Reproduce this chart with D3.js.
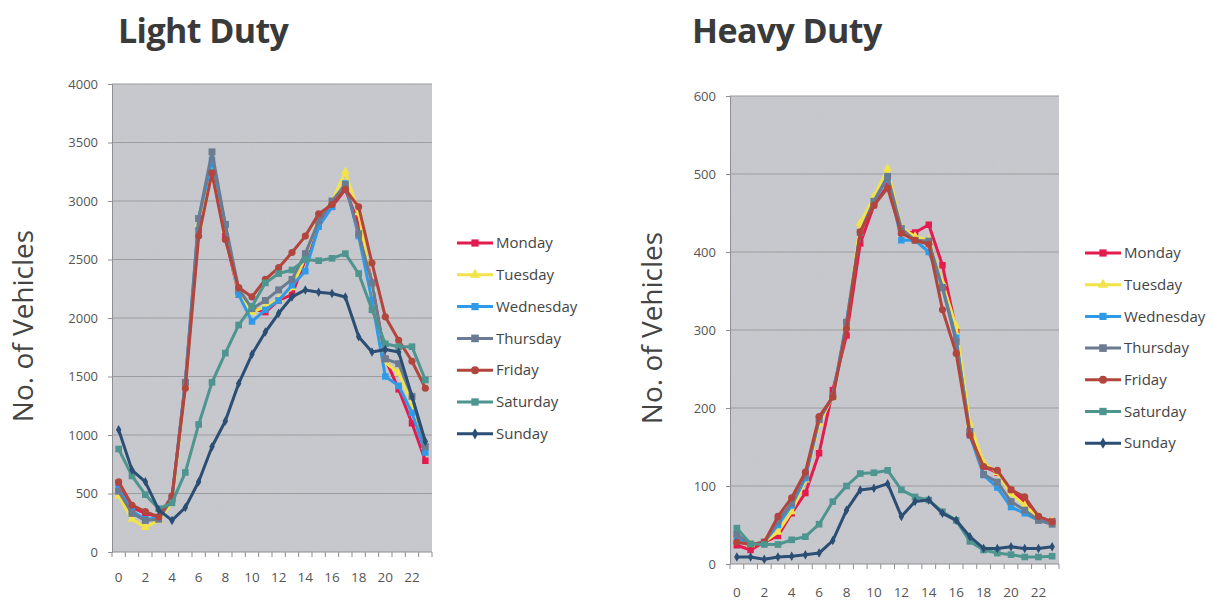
<!DOCTYPE html>
<html>
<head>
<meta charset="utf-8">
<script src="https://cdn.jsdelivr.net/npm/d3@7"></script>
<style>
  html, body { margin: 0; padding: 0; background: #ffffff; }
  svg { display: block; }
</style>
</head>
<body>
<svg id="chart" width="1212" height="601"></svg>
<script>
// ---------------- DATA ----------------
const hours = d3.range(0, 24);
const hourTickLabels = [0, 2, 4, 6, 8, 10, 12, 14, 16, 18, 20, 22];
const days = ["Monday", "Tuesday", "Wednesday", "Thursday", "Friday", "Saturday", "Sunday"];

const lightTitle = "Light Duty";
const lightYTicks = [0, 500, 1000, 1500, 2000, 2500, 3000, 3500, 4000];
const lightMonday    = [590, 380, 330, 300, 450, 1450, 2750, 3250, 2700, 2200, 2080, 2050, 2150, 2200, 2500, 2800, 2950, 3100, 2800, 2300, 1650, 1390, 1100, 780];
const lightTuesday   = [480, 280, 210, 270, 420, 1420, 2800, 3300, 2750, 2200, 2050, 2100, 2160, 2260, 2520, 2850, 3000, 3250, 2900, 2250, 1620, 1530, 1270, 900];
const lightWednesday = [540, 350, 280, 290, 450, 1450, 2850, 3350, 2800, 2200, 1970, 2070, 2150, 2280, 2400, 2780, 2950, 3150, 2700, 2150, 1500, 1420, 1190, 850];
const lightThursday  = [520, 330, 270, 280, 460, 1450, 2850, 3420, 2800, 2250, 2080, 2150, 2240, 2330, 2550, 2830, 3000, 3140, 2720, 2300, 1650, 1610, 1330, 900];
const lightFriday    = [600, 400, 345, 300, 480, 1400, 2700, 3240, 2670, 2260, 2180, 2330, 2430, 2560, 2700, 2890, 2970, 3100, 2950, 2470, 2010, 1810, 1630, 1400];
const lightSaturday  = [880, 650, 490, 370, 420, 680, 1090, 1450, 1700, 1940, 2100, 2300, 2380, 2410, 2500, 2490, 2510, 2550, 2380, 2070, 1780, 1755, 1755, 1470];
const lightSunday    = [1045, 700, 600, 360, 270, 380, 600, 900, 1120, 1440, 1690, 1880, 2040, 2180, 2240, 2220, 2210, 2180, 1840, 1710, 1730, 1710, 1330, 945];

const heavyTitle = "Heavy Duty";
const heavyYTicks = [0, 100, 200, 300, 400, 500, 600];
const heavyMonday    = [24, 18, 28, 36, 65, 91, 142, 223, 293, 411, 460, 485, 425, 425, 435, 383, 300, 170, 125, 117, 95, 80, 60, 55];
const heavyTuesday   = [37, 25, 28, 41, 67, 108, 180, 215, 305, 437, 471, 507, 431, 420, 415, 360, 305, 180, 130, 117, 90, 75, 60, 55];
const heavyWednesday = [33, 25, 28, 50, 75, 110, 185, 215, 310, 425, 465, 495, 415, 415, 400, 355, 290, 165, 114, 98, 73, 65, 56, 54];
const heavyThursday  = [38, 25, 28, 55, 78, 114, 185, 215, 310, 425, 465, 497, 430, 415, 414, 354, 285, 170, 115, 105, 80, 69, 56, 51];
const heavyFriday    = [28, 25, 28, 61, 85, 118, 189, 214, 302, 426, 460, 482, 424, 415, 410, 326, 270, 165, 125, 120, 95, 86, 61, 54];
const heavySaturday  = [46, 26, 25, 25, 31, 35, 51, 80, 100, 116, 117, 120, 95, 86, 82, 67, 56, 29, 18, 14, 12, 9, 9, 10];
const heavySunday    = [9, 9, 6, 9, 10, 12, 14, 30, 69, 95, 97, 103, 61, 80, 82, 65, 56, 35, 20, 20, 22, 20, 20, 22];

const yAxisTitle = "No. of Vehicles";

// ---------------- STYLE ----------------
const dayColors = ["#e31b4f", "#f2e34a", "#2f9be8", "#6a7b92", "#b2453d", "#4e948f", "#2b4e74"];
const daySymbols = [d3.symbolSquare, d3.symbolTriangle, d3.symbolSquare, d3.symbolSquare, d3.symbolCircle, d3.symbolSquare, d3.symbolDiamond];
const daySymbolSizes = [42, 36, 42, 48, 40, 44, 26];

const svg = d3.select("#chart");
const fontLabel = "'Open Sans', 'DejaVu Sans', sans-serif";

// subtle paper-like noise for the plot area
const defs = svg.append("defs");
const noise = defs.append("filter").attr("id", "noise")
  .attr("x", 0).attr("y", 0).attr("width", "100%").attr("height", "100%");
noise.append("feTurbulence").attr("type", "fractalNoise")
  .attr("baseFrequency", "0.9 2.5").attr("numOctaves", 2).attr("seed", 3).attr("result", "t");
noise.append("feColorMatrix").attr("type", "matrix")
  .attr("values", "0 0 0 0 0.5  0 0 0 0 0.5  0 0 0 0 0.52  0.9 0 0 0 -0.2");

function drawChart(cfg) {
  const g = svg.append("g");
  const x = d3.scaleBand().domain(hours).range([cfg.left, cfg.right]);
  const y = d3.scaleLinear().domain([0, cfg.yMax]).range([cfg.bottom, cfg.top]);
  const cx = h => x(h) + x.bandwidth() / 2;

  // plot area
  g.append("rect")
    .attr("x", cfg.left).attr("y", cfg.top)
    .attr("width", cfg.right - cfg.left).attr("height", cfg.bottom - cfg.top)
    .attr("fill", "#c8c9ce");
  g.append("rect")
    .attr("x", cfg.left).attr("y", cfg.top)
    .attr("width", cfg.right - cfg.left).attr("height", cfg.bottom - cfg.top)
    .attr("filter", "url(#noise)").attr("opacity", 0.35);

  // gridlines
  g.selectAll(".grid").data(cfg.yTicks.filter(t => t > 0)).join("line")
    .attr("x1", cfg.left).attr("x2", cfg.right)
    .attr("y1", d => y(d)).attr("y2", d => y(d))
    .attr("stroke", "#9b9ca0").attr("stroke-width", 1);

  // y axis
  const yAxis = d3.axisLeft(y).tickValues(cfg.yTicks).tickSize(4).tickPadding(10).tickFormat(d3.format("d"));
  const ya = g.append("g").attr("transform", `translate(${cfg.left},0)`).call(yAxis);
  ya.select(".domain").attr("stroke", "#8e8e92");
  ya.selectAll(".tick line").attr("stroke", "#8e8e92");
  ya.selectAll("text").attr("font-family", fontLabel).attr("font-size", 13).attr("fill", "#555");

  // x axis line + boundary ticks
  g.append("line").attr("x1", cfg.left).attr("x2", cfg.right)
    .attr("y1", cfg.bottom).attr("y2", cfg.bottom).attr("stroke", "#8e8e92");
  g.selectAll(".xb").data(hours.concat([24])).join("line")
    .attr("x1", d => d < 24 ? x(d) : cfg.right).attr("x2", d => d < 24 ? x(d) : cfg.right)
    .attr("y1", cfg.bottom).attr("y2", cfg.bottom + 5)
    .attr("stroke", "#8e8e92");
  const xAxis = d3.axisBottom(x).tickValues(hourTickLabels).tickSize(0).tickPadding(cfg.xLabelPad);
  const xa = g.append("g").attr("transform", `translate(0,${cfg.bottom})`).call(xAxis);
  xa.select(".domain").remove();
  xa.selectAll("text").attr("font-family", fontLabel).attr("font-size", 13.5).attr("fill", "#555");

  // series
  const line = d3.line().x((d, i) => cx(hours[i])).y(d => y(d));
  cfg.series.forEach((vals, k) => {
    g.append("path").datum(vals)
      .attr("d", line).attr("fill", "none")
      .attr("stroke", dayColors[k]).attr("stroke-width", 3)
      .attr("stroke-linejoin", "round");
    g.selectAll(".m" + k).data(vals).join("path")
      .attr("transform", (d, i) => `translate(${cx(hours[i])},${y(d)})`)
      .attr("d", d3.symbol().type(daySymbols[k]).size(daySymbolSizes[k]))
      .attr("fill", dayColors[k]);
  });

  // title
  g.append("text").attr("x", cfg.titleX).attr("y", 43)
    .attr("font-family", "'Open Sans', 'DejaVu Sans', sans-serif").attr("font-weight", "bold")
    .attr("font-size", 34).attr("fill", "#3a3a3a").attr("letter-spacing", -0.6)
    .text(cfg.title);

  // y axis title
  g.append("text")
    .attr("transform", `translate(${cfg.yTitleX},${cfg.yTitleY}) rotate(-90)`)
    .attr("text-anchor", "middle")
    .attr("font-family", fontLabel).attr("font-size", 28).attr("fill", "#444")
    .text(yAxisTitle);

  // legend
  const lg = g.append("g");
  days.forEach((name, k) => {
    const ly = cfg.legendY + k * cfg.legendStep;
    lg.append("line").attr("x1", cfg.legendX).attr("x2", cfg.legendX + 36)
      .attr("y1", ly).attr("y2", ly).attr("stroke", dayColors[k]).attr("stroke-width", 3);
    lg.append("path").attr("transform", `translate(${cfg.legendX + 18},${ly})`)
      .attr("d", d3.symbol().type(daySymbols[k]).size(daySymbolSizes[k] + 10))
      .attr("fill", dayColors[k]);
    lg.append("text").attr("x", cfg.legendX + 39).attr("y", ly).attr("dy", "0.35em")
      .attr("font-family", fontLabel).attr("font-size", 15).attr("fill", "#444")
      .text(name);
  });
}

drawChart({
  title: lightTitle, titleX: 118,
  left: 112, right: 432, top: 84, bottom: 552, yMax: 4000, yTicks: lightYTicks,
  xLabelPad: 20, yTitleX: 33, yTitleY: 326,
  legendX: 457, legendY: 243, legendStep: 31.8,
  series: [lightMonday, lightTuesday, lightWednesday, lightThursday, lightFriday, lightSaturday, lightSunday]
});

drawChart({
  title: heavyTitle, titleX: 692,
  left: 730, right: 1059, top: 96, bottom: 564, yMax: 600, yTicks: heavyYTicks,
  xLabelPad: 23, yTitleX: 662, yTitleY: 328,
  legendX: 1085, legendY: 253, legendStep: 31.7,
  series: [heavyMonday, heavyTuesday, heavyWednesday, heavyThursday, heavyFriday, heavySaturday, heavySunday]
});
</script>
</body>
</html>
